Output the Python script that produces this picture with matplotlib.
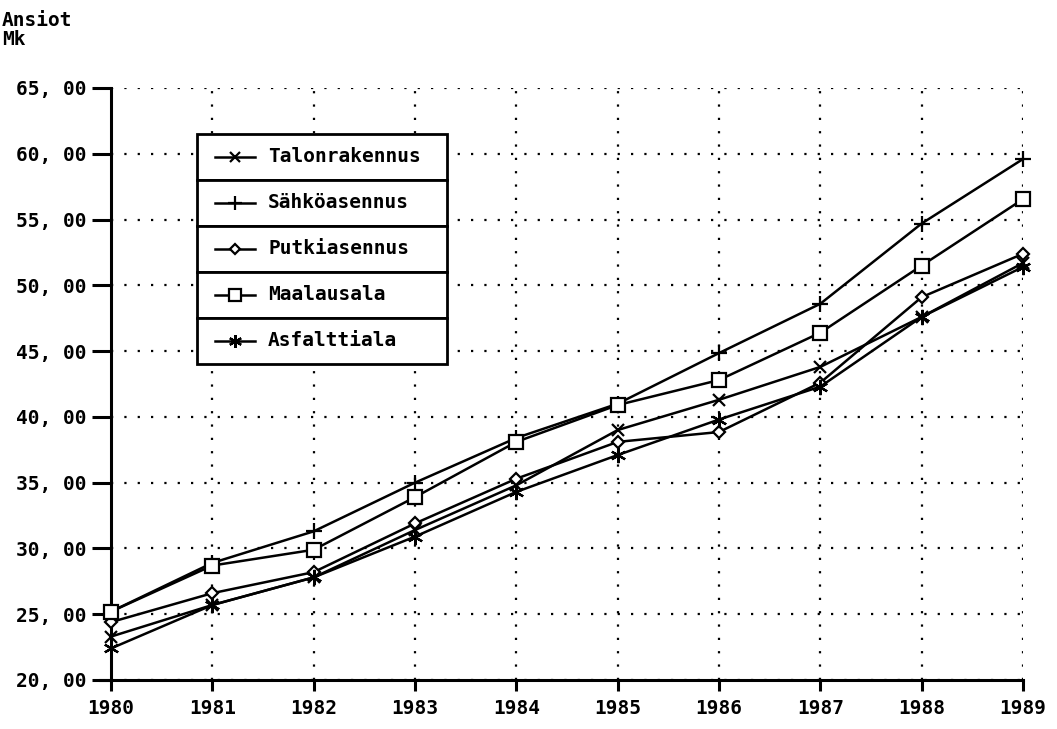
#!/usr/bin/env python3
"""Ansiot (Mk) by trade, 1980-1989."""

import matplotlib
matplotlib.use("Agg")
import matplotlib.pyplot as plt
from matplotlib.patches import Rectangle
from matplotlib.lines import Line2D

years = [1980, 1981, 1982, 1983, 1984, 1985, 1986, 1987, 1988, 1989]
talonrakennus = [23.3, 25.7, 27.8, 31.4, 34.8, 39.0, 41.3, 43.8, 47.6, 51.7]
sahkoasennus = [25.2, 28.9, 31.3, 35.0, 38.4, 41.0, 44.85, 48.6, 54.7, 59.6]
putkiasennus = [24.4, 26.6, 28.2, 31.9, 35.3, 38.1, 38.85, 42.6, 49.1, 52.4]
maalausala = [25.2, 28.7, 29.9, 33.9, 38.1, 40.9, 42.8, 46.4, 51.5, 56.55]
asfalttiala = [22.4, 25.7, 27.8, 30.9, 34.3, 37.1, 39.8, 42.3, 47.6, 51.4]

series = [
    ("Talonrakennus", talonrakennus, "x", 9),
    ("Sähköasennus", sahkoasennus, "+", 12),
    ("Putkiasennus", putkiasennus, "D", 6),
    ("Maalausala", maalausala, "s", 10),
    ("Asfalttiala", asfalttiala, (6, 2, 0), 11),
]
yticks = [20, 25, 30, 35, 40, 45, 50, 55, 60, 65]
ytick_labels = ["20, 00", "25, 00", "30, 00", "35, 00", "40, 00",
                "45, 00", "50, 00", "55, 00", "60, 00", "65, 00"]

font = dict(family="DejaVu Sans Mono", weight="bold", size=14)

fig = plt.figure(figsize=(10.57, 7.29), dpi=100)
ax = fig.add_axes([111 / 1057, 1 - 680 / 729, 912 / 1057, 592 / 729])

for name, vals, mk, ms in series:
    ax.plot(years, vals, color="black", lw=1.8, marker=mk, markersize=ms,
            markerfacecolor="white", markeredgecolor="black", markeredgewidth=1.6,
            clip_on=False, zorder=3)

ax.set_xlim(1980, 1989)
ax.set_ylim(20, 65)
ax.set_xticks(years)
ax.set_xticklabels([str(y) for y in years], fontdict=font)
ax.set_yticks(yticks)
ax.set_yticklabels(ytick_labels, fontdict=font)
ax.grid(True, color="black", linestyle=(0, (1, 5)), linewidth=1.6)
for side in ("top", "right"):
    ax.spines[side].set_visible(False)
for side in ("left", "bottom"):
    ax.spines[side].set_linewidth(2.2)
ax.tick_params(axis="y", length=14, width=2.2, pad=4)
ax.tick_params(axis="x", length=8, width=2.2, pad=6)

# left extension of the x axis
ax.plot([-0.012, 0], [0, 0], transform=ax.transAxes, color="black", lw=2.2, clip_on=False)

fig.text(2 / 1057, 1 - 11 / 729, "Ansiot\nMk", ha="left", va="top",
         linespacing=1.0, **font)

# legend drawn as a boxed table
x0, x1 = (197 - 111) / 912, (447 - 111) / 912
top, row_h = (680 - 134) / 592, 46 / 592
for i, (name, vals, mk, ms) in enumerate(series):
    ytop = top - i * row_h
    ax.add_patch(Rectangle((x0, ytop - row_h), x1 - x0, row_h, transform=ax.transAxes,
                           fill=True, facecolor="white", edgecolor="black", lw=2, zorder=5))
    yc = ytop - row_h / 2
    ax.add_line(Line2D([(215 - 111) / 912, (255 - 111) / 912], [yc, yc], transform=ax.transAxes,
                       color="black", lw=1.8, zorder=6))
    ax.add_line(Line2D([(235 - 111) / 912], [yc], transform=ax.transAxes, marker=mk,
                       markersize=ms * 0.85, markerfacecolor="white", markeredgecolor="black",
                       markeredgewidth=1.6, zorder=7))
    ax.text((268 - 111) / 912, yc, name, transform=ax.transAxes, ha="left", va="center",
            zorder=7, **font)

fig.savefig("out.png", dpi=100)
